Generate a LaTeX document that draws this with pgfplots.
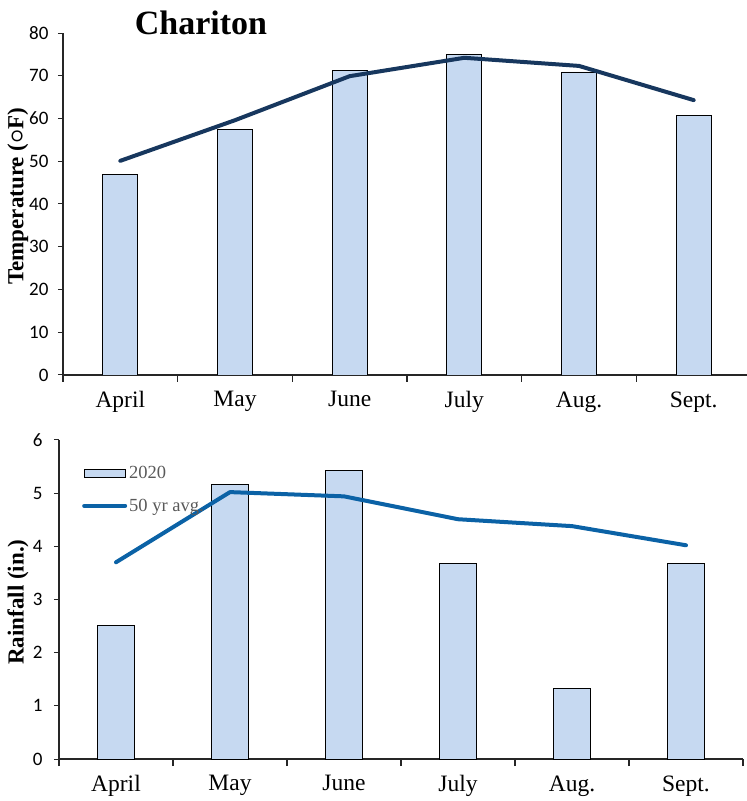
\documentclass[border=0pt]{standalone}
\usepackage{fontspec}
\setmainfont{Liberation Serif}
\newfontfamily\tickfont{Carlito}
\usepackage{pgfplots}
\pgfplotsset{compat=1.18}
\definecolor{barfill}{HTML}{C6D9F1}
\definecolor{topline}{HTML}{17375E}
\definecolor{botline}{HTML}{0B62A6}
\definecolor{legtext}{HTML}{595959}
\pgfplotsset{
  mybase/.style={
    scale only axis,
    anchor=south west,
    xmin=-0.5, xmax=5.5,
    axis x line*=bottom, axis y line*=left,
    axis line style={line width=1.2pt, black!85},
    tick align=outside,
    xtick={0,...,5},
    xticklabels={April,May,June,July,Aug.,Sept.},
    major x tick style={draw=none},
    minor xtick={-0.5,0.5,...,5.5},
    minor tick length=7pt,
    minor x tick style={line width=1.2pt, black!85},
    major tick length=5pt,
    y tick style={line width=1pt, black!85},
    xticklabel style={font=\fontsize{23.5}{26}\selectfont, yshift=-8pt},
    yticklabel style={font=\tickfont\fontsize{19}{22}\selectfont},
    ylabel style={font=\bfseries\fontsize{23}{28}\selectfont, anchor=center, inner sep=0pt},
    /pgf/number format/assume math mode=true,
  }
}
\begin{document}
\begin{tikzpicture}
\useasboundingbox (0,0) rectangle (747pt,801pt);
% Top: temperature
\begin{axis}[mybase,
  at={(63pt,426pt)}, width=688pt, height=342pt,
  ymin=0, ymax=80, ytick={0,10,...,80},
  yticklabel style={xshift=-6pt},
  ylabel={Temperature ({\boldmath$\circ$}F)},
  ylabel style={at={(axis description cs:-0.0655,0.523)}},
]
\addplot[ybar, bar width=35pt, fill=barfill, draw=black, line width=0.8pt]
  coordinates {(0,47.0) (1,57.5) (2,71.3) (3,74.9) (4,70.9) (5,60.8)};
\addplot[topline, line width=4pt, line join=round, line cap=round]
  coordinates {(0,50.1) (1,59.6) (2,69.9) (3,74.2) (4,72.3) (5,64.3)};
\end{axis}
% Bottom: rainfall
\begin{axis}[mybase,
  at={(59pt,42pt)}, width=684pt, height=319pt,
  ymin=0, ymax=6, ytick={0,...,6},
  yticklabel style={xshift=-8pt},
  ylabel={Rainfall (in.)},
  ylabel style={at={(axis description cs:-0.0600,0.492)}},
  legend cell align=left,
  legend style={at={(axis description cs:0.0336,0.925)}, anchor=north west,
    draw=none, fill=none, inner sep=0pt,
    font=\fontsize{18.5}{20}\selectfont, text=legtext, row sep=15pt,
    /tikz/every even column/.append style={column sep=3pt}},
]
\addplot[ybar, bar width=37pt, fill=barfill, draw=black, line width=0.8pt,
  legend image code/.code={\draw[fill=barfill, draw=black, line width=0.8pt] (0pt,-4pt) rectangle (41pt,4pt);}]
  coordinates {(0,2.52) (1,5.17) (2,5.43) (3,3.67) (4,1.32) (5,3.67)};
\addlegendentry{2020}
\addplot[botline, line width=4pt, line join=round, line cap=round,
  legend image code/.code={\draw[botline, line width=4pt, line cap=round] (0pt,0pt) -- (41pt,0pt);}]
  coordinates {(0,3.70) (1,5.02) (2,4.94) (3,4.51) (4,4.38) (5,4.02)};
\addlegendentry{50 yr avg.}
\end{axis}
\node[font=\bfseries\fontsize{34}{40}\selectfont, anchor=base] at (201pt,766pt) {Chariton};
\end{tikzpicture}
\end{document}
